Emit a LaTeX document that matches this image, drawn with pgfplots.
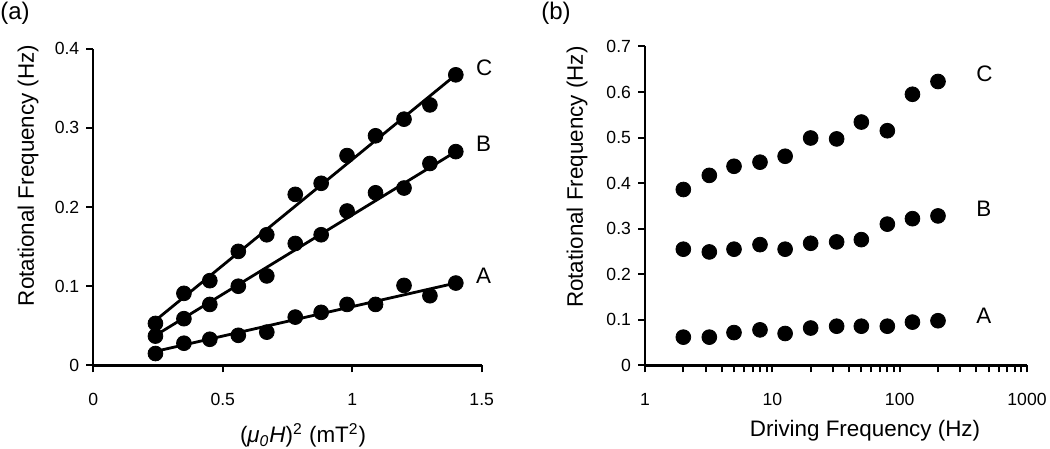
\documentclass[border=0pt]{standalone}
\usepackage{fontspec}
\setmainfont{Liberation Sans}
\usepackage{pgfplots}
\pgfplotsset{compat=1.18}
\pgfplotsset{
  common/.style={
    scale only axis, anchor=south west, clip=false,
    axis x line*=bottom, axis y line*=left,
    axis line style={-, line width=1.2pt, black},
    tick align=outside, major tick length=3.5pt, minor tick length=3.5pt,
    every tick/.style={black, line width=1pt},
    tick label style={font=\fontsize{8.8}{10}\selectfont},
    label style={font=\fontsize{11.2}{13}\selectfont},
    /pgf/number format/assume math mode=true,
    xticklabel style={anchor=base, yshift=-16.5pt},
    yticklabel style={anchor=east},
  },
  dots/.style={only marks, mark=*, mark size=3.7pt, mark options={fill=black, draw=black}},
  fit/.style={no marks, black, line width=1.4pt},
}
\tikzset{lab/.style={anchor=west, inner sep=0pt, font=\fontsize{11.2}{13}\selectfont}}
\begin{document}
\begin{tikzpicture}[x=1pt,y=1pt]
\path[use as bounding box] (0,0) rectangle (525,224.5);
\node[anchor=north west, inner sep=0pt, font=\fontsize{12}{14}\selectfont] at (0,223.8) {(a)};
\node[anchor=north west, inner sep=0pt, font=\fontsize{12}{14}\selectfont] at (270.5,223.8) {(b)};
% ---------------- panel (a)
\begin{axis}[common, at={(46.65pt,41.8pt)}, width=194.2pt, height=158.35pt,
  xmin=0, xmax=1.5, ymin=0, ymax=0.4,
  xtick={0,0.5,1,1.5}, xticklabels={0,0.5,1,1.5},
  ytick={0,0.1,0.2,0.3,0.4}, yticklabels={0,0.1,0.2,0.3,0.4},
  xlabel={(\textit{μ\textsubscript{0}H})\textsuperscript{2} (mT\textsuperscript{2})},
  xlabel style={at={(axis description cs:0.54,-0.244)}, anchor=base},
  ylabel={Rotational Frequency (Hz)},
  ylabel style={at={(axis description cs:-0.168,0.6)}, anchor=center},
]
\addplot[fit] coordinates {(0.24,0.0568) (1.40,0.367)};
\addplot[fit] coordinates {(0.24,0.0379) (1.40,0.270)};
\addplot[fit] coordinates {(0.24,0.0177) (1.40,0.104)};
\addplot[dots] coordinates {
(0.24,0.053) (0.35,0.091) (0.45,0.107) (0.56,0.144) (0.67,0.165) (0.78,0.216)
(0.88,0.230) (0.98,0.265) (1.09,0.290) (1.20,0.311) (1.30,0.329) (1.40,0.367)};
\addplot[dots] coordinates {
(0.24,0.037) (0.35,0.059) (0.45,0.077) (0.56,0.100) (0.67,0.113) (0.78,0.154)
(0.88,0.165) (0.98,0.195) (1.09,0.218) (1.20,0.224) (1.30,0.255) (1.40,0.270)};
\addplot[dots] coordinates {
(0.24,0.015) (0.35,0.028) (0.45,0.033) (0.56,0.038) (0.67,0.042) (0.78,0.061)
(0.88,0.067) (0.98,0.077) (1.09,0.077) (1.20,0.101) (1.30,0.088) (1.40,0.104)};
\node[lab] at (axis cs:1.477,0.376) {C};
\node[lab] at (axis cs:1.477,0.280) {B};
\node[lab] at (axis cs:1.477,0.1137) {A};
\end{axis}
% ---------------- panel (b)
\begin{axis}[common, at={(322.5pt,41.8pt)}, width=191pt, height=159.5pt,
  xmode=log, xmin=1, xmax=1000, ymin=0, ymax=0.7,
  xtick={1,10,100,1000}, xticklabels={1,10,100,1000},
  minor xtick={2,3,4,5,6,7,8,9,20,30,40,50,60,70,80,90,200,300,400,500,600,700,800,900},
  ytick={0,0.1,0.2,0.3,0.4,0.5,0.6,0.7}, yticklabels={0,0.1,0.2,0.3,0.4,0.5,0.6,0.7},
  xlabel={Driving Frequency (Hz)},
  xlabel style={at={(axis description cs:0.576,-0.2235)}, anchor=base},
  ylabel={Rotational Frequency (Hz)},
  ylabel style={at={(axis description cs:-0.178,0.59)}, anchor=center},
]
\addplot[dots] coordinates {
(2,0.386) (3.2,0.417) (5,0.437) (8,0.446) (12.6,0.459) (20,0.499)
(32,0.497) (50,0.534) (80,0.515) (126,0.595) (200,0.623)};
\addplot[dots] coordinates {
(2,0.255) (3.2,0.249) (5,0.255) (8,0.265) (12.6,0.255) (20,0.268)
(32,0.271) (50,0.276) (80,0.310) (126,0.322) (200,0.328)};
\addplot[dots] coordinates {
(2,0.062) (3.2,0.062) (5,0.072) (8,0.078) (12.6,0.070) (20,0.082)
(32,0.086) (50,0.086) (80,0.086) (126,0.095) (200,0.098)};
\node[lab] at (axis cs:398,0.640) {C};
\node[lab] at (axis cs:398,0.343) {B};
\node[lab] at (axis cs:398,0.108) {A};
\end{axis}
\end{tikzpicture}
\end{document}
